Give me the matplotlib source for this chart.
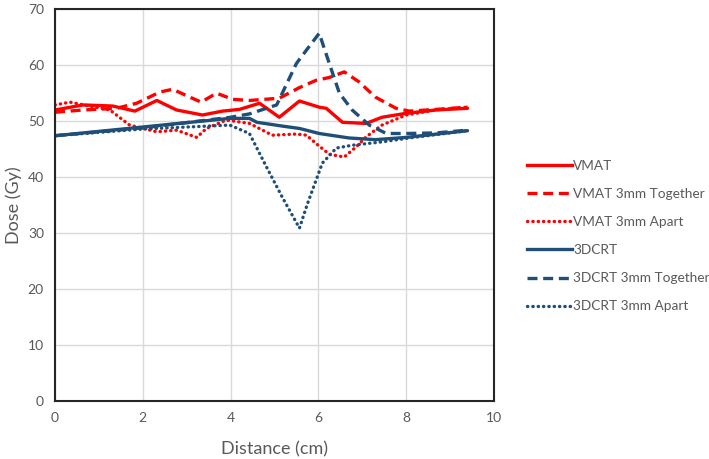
import matplotlib.pyplot as plt
from matplotlib.lines import Line2D

plt.rcParams['font.family'] = ['Lato', 'DejaVu Sans']

# distance (cm) and dose (Gy)
vmat_x = [0, 0.64, 1.32, 1.82, 2.32, 2.77, 3.36, 3.82, 4.2, 4.66, 5.11, 5.57, 6.02, 6.18, 6.55, 7.09, 7.45, 8.0, 8.68, 9.4]
vmat_y = [52.0, 52.9, 52.7, 51.8, 53.7, 52.0, 51.1, 51.8, 52.1, 53.2, 50.7, 53.6, 52.5, 52.3, 49.8, 49.6, 50.7, 51.4, 52.0, 52.3]

vmat_tog_x = [0, 0.64, 1.4, 1.86, 2.39, 2.68, 3.07, 3.33, 3.68, 4.05, 4.43, 5.11, 5.57, 5.95, 6.25, 6.59, 6.93, 7.3, 7.77, 8.07, 8.68, 9.4]
vmat_tog_y = [51.6, 52.0, 52.3, 53.2, 55.2, 55.7, 54.3, 53.4, 55.0, 53.9, 53.7, 54.1, 56.0, 57.3, 57.8, 58.8, 57.0, 54.3, 52.3, 51.8, 52.1, 52.5]

vmat_apart_x = [0, 0.34, 1.25, 1.4, 1.7, 2.32, 2.77, 3.23, 3.45, 3.9, 4.43, 4.95, 5.5, 5.73, 5.95, 6.25, 6.59, 6.86, 7.09, 7.45, 8.0, 8.68, 9.4]
vmat_apart_y = [52.9, 53.4, 52.0, 51.1, 49.3, 48.1, 48.4, 47.1, 48.7, 50.2, 49.6, 47.5, 47.7, 47.5, 46.0, 44.1, 43.6, 45.4, 47.2, 49.3, 51.1, 52.0, 52.5]

crt_x = [0, 3.98, 4.43, 4.6, 5.2, 5.57, 6.02, 6.7, 7.3, 8.0, 9.4]
crt_y = [47.4, 50.5, 50.5, 49.8, 49.1, 48.7, 47.8, 47.0, 46.7, 47.1, 48.3]

crt_tog_x = [0, 2.0, 4.0, 4.43, 5.05, 5.5, 5.73, 6.02, 6.25, 6.48, 6.77, 7.16, 7.55, 8.0, 8.68, 9.4]
crt_tog_y = [47.4, 48.8, 50.7, 51.3, 52.9, 60.3, 62.7, 65.7, 60.3, 55.0, 52.0, 49.3, 47.8, 47.8, 47.9, 48.4]

crt_apart_x = [0, 2.0, 3.98, 4.43, 4.82, 5.18, 5.57, 5.75, 5.95, 6.09, 6.41, 6.77, 7.45, 8.07, 9.4]
crt_apart_y = [47.4, 48.6, 49.3, 47.8, 41.8, 36.4, 30.9, 35.2, 39.5, 42.5, 45.2, 45.7, 46.3, 47.0, 48.3]

red = '#ff0000'
blue = '#1f4e79'
grey = '#595959'

lw = 2.4
dash = (0, (3.0, 1.7))
dot = (0, (0.1, 1.5))

fig = plt.figure(figsize=(7.09, 4.59), dpi=100)
ax = fig.add_axes([0.0776, 0.126, 0.619, 0.854])

ax.plot(vmat_x, vmat_y, color=red, lw=lw, solid_capstyle='round')
ax.plot(vmat_tog_x, vmat_tog_y, color=red, lw=lw, linestyle=dash)
ax.plot(vmat_apart_x, vmat_apart_y, color=red, lw=lw, linestyle=dot, dash_capstyle='round')
ax.plot(crt_x, crt_y, color=blue, lw=lw, solid_capstyle='round')
ax.plot(crt_tog_x, crt_tog_y, color=blue, lw=lw, linestyle=dash)
ax.plot(crt_apart_x, crt_apart_y, color=blue, lw=lw, linestyle=dot, dash_capstyle='round')

ax.set_xlim(0, 10)
ax.set_ylim(0, 70)
ax.set_xticks(range(0, 11, 2))
ax.set_yticks(range(0, 71, 10))
ax.grid(True, color='#d9d9d9', lw=1)
ax.set_axisbelow(True)
for s in ax.spines.values():
    s.set_color('#262626')
    s.set_linewidth(1.5)
ax.tick_params(length=0, labelsize=10, colors=grey, pad=8)
ax.set_xlabel('Distance (cm)', fontsize=13, color=grey, labelpad=12)
ax.set_ylabel('Dose (Gy)', fontsize=13, color=grey, labelpad=4)

# legend on the right
labels = ['VMAT', 'VMAT 3mm Together', 'VMAT 3mm Apart', '3DCRT', '3DCRT 3mm Together', '3DCRT 3mm Apart']
colors = [red, red, red, blue, blue, blue]
styles = ['-', dash, dot, '-', dash, dot]
handles = [Line2D([], [], color=c, lw=lw, linestyle=s, dash_capstyle='round' if s == dot else 'butt')
           for c, s in zip(colors, styles)]
leg = fig.legend(handles, labels, loc='upper left', bbox_to_anchor=(0.726, 0.678), frameon=False,
                 fontsize=9.8, labelcolor=grey, handlelength=3.3, handletextpad=0.1, labelspacing=1.18)

fig.savefig('out.png', dpi=100)
